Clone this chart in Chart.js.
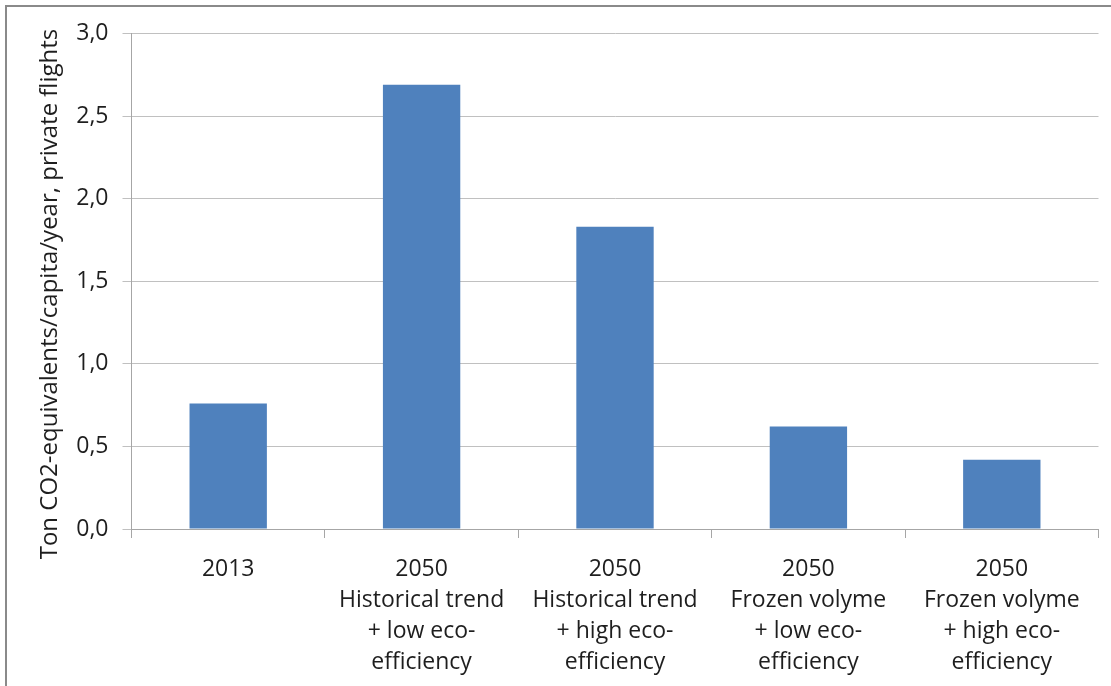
<!DOCTYPE html>
<html>
<head>
<meta charset="utf-8">
<script src="https://cdn.jsdelivr.net/npm/chart.js@4.4.1/dist/chart.umd.min.js"></script>
<style>
  html, body { margin: 0; padding: 0; background: #fff; }
  #wrap { position: absolute; left: 0; top: 0; width: 1111px; height: 686px; }
</style>
</head>
<body>
<div id="wrap"><canvas id="c" width="1111" height="686"></canvas></div>
<script>
const categories = [
  ['2013'],
  ['2050', 'Historical trend', '+ low eco-', 'efficiency'],
  ['2050', 'Historical trend', '+ high eco-', 'efficiency'],
  ['2050', 'Frozen volyme', '+ low eco-', 'efficiency'],
  ['2050', 'Frozen volyme', '+ high eco-', 'efficiency']
];
const emissions = [0.76, 2.69, 1.83, 0.62, 0.42];
const yTickValues = [0, 0.5, 1.0, 1.5, 2.0, 2.5, 3.0];
const yTickLabels = ['0,0', '0,5', '1,0', '1,5', '2,0', '2,5', '3,0'];
const yAxisTitle = 'Ton CO2-equivalents/capita/year, private flights';

const FONT = "'Open Sans', 'Noto Sans', sans-serif";

const framePlugin = {
  id: 'frame',
  beforeDraw(chart) {
    const ctx = chart.ctx;
    ctx.save();
    ctx.fillStyle = '#ffffff';
    ctx.fillRect(0, 0, chart.width, chart.height);
    ctx.strokeStyle = '#8a8a8a';
    ctx.lineWidth = 2;
    ctx.beginPath();
    ctx.moveTo(6, chart.height + 2);
    ctx.lineTo(6, 6);
    ctx.lineTo(chart.width + 2, 6);
    ctx.stroke();
    ctx.restore();
  },
  afterDraw(chart) {
    const ctx = chart.ctx;
    ctx.save();
    ctx.translate(57, 294);
    ctx.rotate(-Math.PI / 2);
    ctx.font = "24px " + FONT;
    ctx.fillStyle = '#1e1e1e';
    ctx.textAlign = 'center';
    ctx.textBaseline = 'alphabetic';
    ctx.fillText(yAxisTitle, 0, 0);
    ctx.restore();
  }
};

new Chart(document.getElementById('c'), {
  type: 'bar',
  data: {
    labels: categories,
    datasets: [{
      data: emissions,
      backgroundColor: '#4f81bd',
      borderWidth: 0,
      barPercentage: 0.4,
      categoryPercentage: 1.0
    }]
  },
  options: {
    responsive: false,
    animation: false,
    devicePixelRatio: 1,
    layout: { padding: { top: 33.5, right: 12.5, left: 0, bottom: 0 } },
    plugins: {
      legend: { display: false },
      tooltip: { enabled: false },
      title: { display: false }
    },
    scales: {
      x: {
        grid: {
          display: true,
          drawOnChartArea: false,
          drawTicks: true,
          tickLength: 9,
          offset: true,
          color: '#a6a6a6'
        },
        border: { display: true, color: '#a6a6a6', width: 1 },
        ticks: {
          color: '#1e1e1e',
          font: { family: FONT, size: 23, lineHeight: 1.35 },
          padding: 16,
          maxRotation: 0,
          minRotation: 0,
          autoSkip: false
        },
        afterFit(scale) { scale.height = 157; }
      },
      y: {
        min: 0,
        max: 3,
        afterBuildTicks(scale) {
          scale.ticks = yTickValues.map(v => ({ value: v }));
        },
        grid: {
          color: '#c0c0c0',
          drawTicks: true,
          tickLength: 9,
          lineWidth: 1
        },
        border: { display: true, color: '#a6a6a6', width: 1 },
        ticks: {
          color: '#1e1e1e',
          font: { family: FONT, size: 23 },
          padding: 14,
          callback(value, index) { return yTickLabels[index]; }
        },
        afterFit(scale) { scale.width = 131.5; }
      }
    }
  },
  plugins: [framePlugin]
});
</script>
</body>
</html>
